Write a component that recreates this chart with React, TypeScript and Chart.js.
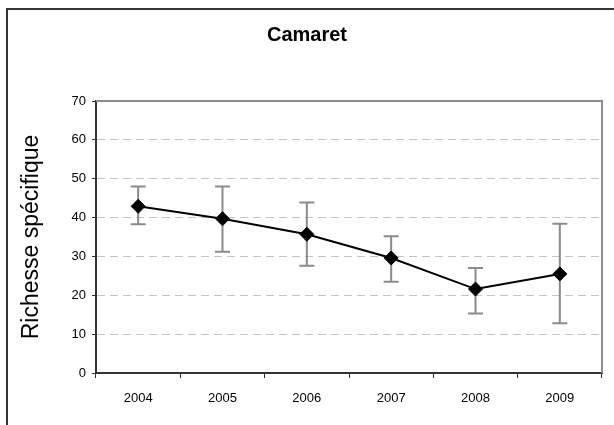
import React, { useEffect, useRef } from "react";
import { Chart, registerables } from "chart.js";

Chart.register(...registerables);

// Species richness per survey year, with the spread shown as error bars
const years = ["2004", "2005", "2006", "2007", "2008", "2009"];
const richness = [42.9, 39.7, 35.7, 29.6, 21.6, 25.5];
const upperBound = [48.0, 48.0, 43.9, 35.2, 27.0, 38.4];
const lowerBound = [38.3, 31.2, 27.6, 23.5, 15.3, 12.8];

const FONT = "'Liberation Sans', Arial, Helvetica, sans-serif";

// Outer frame of the figure (left and top edges)
const framePlugin = {
  id: "frame",
  beforeDraw(chart: any) {
    const { ctx, width, height } = chart;
    ctx.save();
    ctx.fillStyle = "#ffffff";
    ctx.fillRect(0, 0, width, height);
    ctx.strokeStyle = "#333333";
    ctx.lineWidth = 2;
    ctx.beginPath();
    ctx.moveTo(7, height);
    ctx.lineTo(7, 9);
    ctx.lineTo(width, 9);
    ctx.stroke();
    ctx.restore();
  },
};

// Plot-area top/right border and the vertical error bars
const errorBarPlugin = {
  id: "errorBars",
  beforeDatasetsDraw(chart: any) {
    const { ctx, chartArea } = chart;
    const xs = chart.scales.x;
    const ys = chart.scales.y;
    ctx.save();
    ctx.strokeStyle = "#8c8c8c";
    ctx.lineWidth = 2;
    ctx.beginPath();
    ctx.moveTo(chartArea.left, chartArea.top);
    ctx.lineTo(chartArea.right, chartArea.top);
    ctx.lineTo(chartArea.right, chartArea.bottom);
    ctx.stroke();

    ctx.strokeStyle = "#8a8a8a";
    ctx.lineWidth = 2;
    const cap = 7.5;
    years.forEach((_, i) => {
      const px = xs.getPixelForValue(i);
      const pTop = ys.getPixelForValue(upperBound[i]);
      const pBot = ys.getPixelForValue(lowerBound[i]);
      ctx.beginPath();
      ctx.moveTo(px, pTop);
      ctx.lineTo(px, pBot);
      ctx.moveTo(px - cap, pTop);
      ctx.lineTo(px + cap, pTop);
      ctx.moveTo(px - cap, pBot);
      ctx.lineTo(px + cap, pBot);
      ctx.stroke();
    });
    ctx.restore();
  },
};

export default function App() {
  const canvasRef = useRef<HTMLCanvasElement | null>(null);

  useEffect(() => {
    document.body.style.margin = "0";
    const canvas = canvasRef.current;
    if (!canvas) return;

    const chart = new Chart(canvas, {
      type: "line",
      data: {
        labels: years,
        datasets: [
          {
            data: richness,
            borderColor: "#000000",
            borderWidth: 2,
            backgroundColor: "#000000",
            pointStyle: "rectRot",
            pointRadius: 7,
            pointBackgroundColor: "#000000",
            pointBorderColor: "#000000",
            pointBorderWidth: 1,
            tension: 0,
            fill: false,
          },
        ],
      },
      options: {
        responsive: false,
        animation: false,
        devicePixelRatio: 1,
        layout: { padding: { left: 6, right: 6, top: 0, bottom: 0 } },
        plugins: {
          legend: { display: false },
          tooltip: { enabled: false },
          title: {
            display: true,
            text: "Camaret",
            color: "#000000",
            font: { family: FONT, size: 20, weight: "bold" },
            padding: { top: 23, bottom: 54 },
          },
        },
        scales: {
          x: {
            type: "category",
            offset: true,
            grid: {
              offset: true,
              drawOnChartArea: false,
              drawTicks: true,
              tickLength: 5,
              color: "#333333",
              lineWidth: 1,
            },
            border: { color: "#333333", width: 2 },
            ticks: {
              color: "#000000",
              font: { family: FONT, size: 13 },
              padding: 13,
              maxRotation: 0,
            },
            afterFit: (s: any) => {
              s.height = 52;
            },
          },
          y: {
            min: 0,
            max: 70,
            ticks: {
              stepSize: 10,
              color: "#000000",
              font: { family: FONT, size: 13 },
              padding: 6,
            },
            grid: {
              color: "#c4c4c4",
              lineWidth: 1,
              tickLength: 4,
              tickColor: "#333333",
              tickWidth: 1,
            },
            border: { color: "#333333", width: 2, dash: [8, 5] },
            title: {
              display: true,
              text: "Richesse spécifique",
              color: "#000000",
              font: { family: FONT, size: 23 },
              padding: { top: 12, bottom: 0 },
            },
            afterFit: (s: any) => {
              s.width = 90;
            },
          },
          // empty right-hand gutter so the plot stops short of the frame edge
          yGutter: {
            position: "right",
            display: true,
            ticks: { display: false },
            grid: { display: false },
            border: { display: false },
            afterFit: (s: any) => {
              s.width = 6;
            },
          },
        },
      },
      plugins: [framePlugin, errorBarPlugin],
    } as any);

    return () => chart.destroy();
  }, []);

  return (
    <canvas
      ref={canvasRef}
      width={614}
      height={425}
      style={{ display: "block", width: 614, height: 425 }}
    />
  );
}
